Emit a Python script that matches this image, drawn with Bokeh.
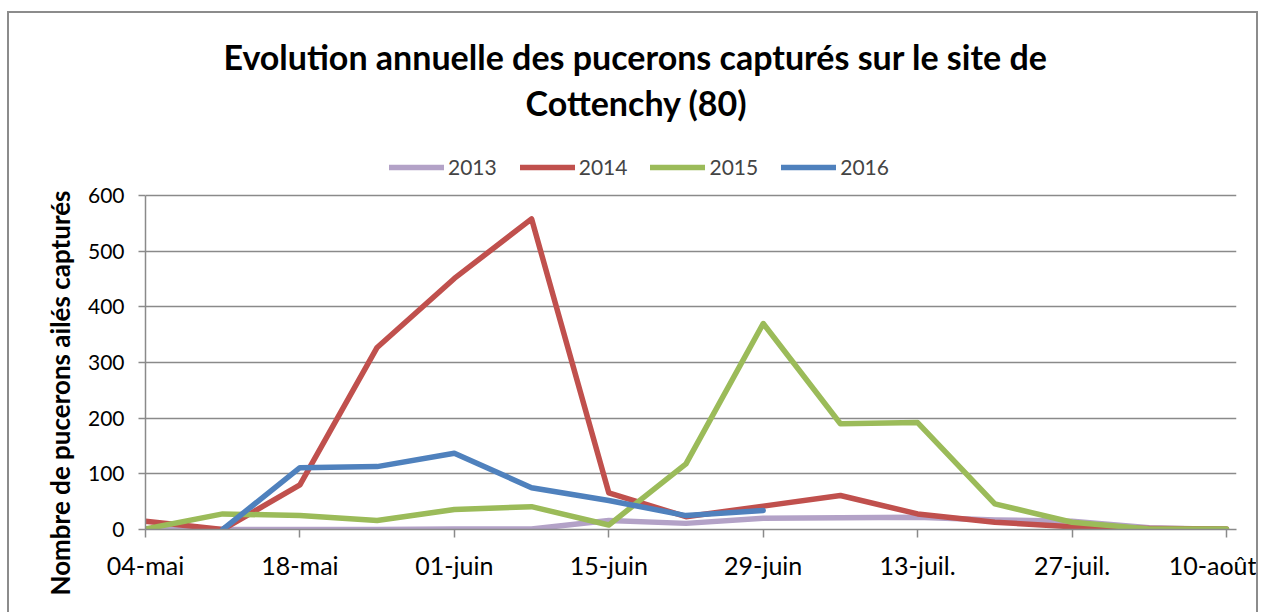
from bokeh.plotting import figure
from bokeh.models import (ColumnDataSource, Range1d, FixedTicker, Legend, LegendItem, Title, Label)
from bokeh.embed import file_html
from bokeh.resources import INLINE

nan = float("nan")

# ---- data ----
weeks = ["04-mai", "11-mai", "18-mai", "25-mai", "01-juin", "08-juin", "15-juin",
         "22-juin", "29-juin", "06-juil.", "13-juil.", "20-juil.", "27-juil.",
         "03-août", "10-août"]
s2013 = [0, 0, 0, 0, 1, 1, 16, 11, 20, 21, 22, 17, 15, 3, 0]
s2014 = [15, 0, 80, 327, 451, 558, 66, 23, 42, 61, 28, 13, 5, 2, 1]
s2015 = [1, 28, 25, 16, 36, 41, 8, 118, 370, 190, 192, 46, 13, 1, 1]
s2016 = [nan, 0, 111, 113, 137, 75, 52, 25, 34, nan, nan, nan, nan, nan, nan]
series_names = ["2013", "2014", "2015", "2016"]
series_colors = ["#B3A2C7", "#C0504D", "#9BBB59", "#4F81BD"]
y_ticks = [0, 100, 200, 300, 400, 500, 600]
title_lines = ["Evolution annuelle des pucerons capturés sur le site de", "Cottenchy (80)"]
y_title = "Nombre de pucerons ailés capturés"

# ---- layout (pixels) ----
W, H = 1251, 601
FRAME_L, FRAME_R, FRAME_B = 136, 24, 85     # canvas borders around the plot frame
FRAME_W = W - FRAME_L - FRAME_R
FRAME_H = H - FRAME_B                        # frame reaches the canvas top
PX_PER_100 = 55.67                           # vertical pixels per 100 units
X_MAX = 14.13
Y_MAX = FRAME_H * 100.0 / PX_PER_100

def sx(px):   # canvas x pixel -> data x
    return (px - FRAME_L) * X_MAX / FRAME_W

def sy(py):   # canvas y pixel (from top) -> data y
    return (FRAME_H - py) * Y_MAX / FRAME_H

x = list(range(len(weeks)))
src = ColumnDataSource(dict(x=x, s2013=s2013, s2014=s2014, s2015=s2015, s2016=s2016))

p = figure(width=W, height=H, x_range=Range1d(0, X_MAX), y_range=Range1d(0, Y_MAX),
           output_backend="svg", toolbar_location=None,
           min_border_left=FRAME_L, min_border_right=FRAME_R, min_border_top=0,
           min_border_bottom=FRAME_B)
p.styles = {"border-top": "2px solid #8c8c8c", "border-left": "2px solid #8c8c8c",
            "border-right": "2px solid #8c8c8c", "margin-top": "11px", "margin-left": "7px"}
p.outline_line_color = None
p.background_fill_color = "white"
p.border_fill_color = "white"

grid_col = "#8a8a8a"
p.xgrid.grid_line_color = None
p.ygrid.grid_line_color = grid_col
p.ygrid.grid_line_width = 1.5
p.ygrid.ticker = FixedTicker(ticks=y_ticks)

p.yaxis.ticker = FixedTicker(ticks=y_ticks)
p.yaxis.bounds = (y_ticks[0], y_ticks[-1])
p.yaxis.axis_line_color = grid_col
p.yaxis.axis_line_width = 1.5
p.yaxis.major_tick_line_color = grid_col
p.yaxis.major_tick_line_width = 1.5
p.yaxis.major_tick_out = 7
p.yaxis.major_tick_in = 0
p.yaxis.minor_tick_line_color = None
p.yaxis.major_label_standoff = 14
p.yaxis.major_label_text_font = "Lato"
p.yaxis.major_label_text_font_size = "21px"
p.yaxis.major_label_text_color = "black"

xt = x[::2]
p.xaxis.ticker = FixedTicker(ticks=xt)
p.xaxis.major_label_overrides = {t: weeks[t] for t in xt}
p.xaxis.axis_line_color = grid_col
p.xaxis.axis_line_width = 1.5
p.xaxis.major_tick_line_color = grid_col
p.xaxis.major_tick_line_width = 1.5
p.xaxis.major_tick_out = 8
p.xaxis.major_tick_in = 0
p.xaxis.minor_tick_line_color = None
p.xaxis.major_label_standoff = 12
p.xaxis.major_label_text_font = "Lato"
p.xaxis.major_label_text_font_size = "25px"
p.xaxis.major_label_text_color = "black"

renderers = []
for name, col in zip(series_names, series_colors):
    r = p.line("x", "s" + name, source=src, line_color=col, line_width=5.5,
               line_join="round", line_cap="round")
    renderers.append(r)

# legend centred near canvas y=154, starting at canvas x=380
legend = Legend(items=[LegendItem(label=n, renderers=[r]) for n, r in zip(series_names, renderers)],
                orientation="horizontal", location=(380 - FRAME_L, FRAME_H - 154 - 12),
                glyph_width=55, glyph_height=24, label_standoff=4, spacing=23,
                padding=0, margin=0, border_line_color=None, background_fill_alpha=0,
                label_text_font="Lato", label_text_font_size="21px",
                label_text_baseline="middle")
p.add_layout(legend, "center")

p.add_layout(Label(x=sx(626), y=sy(43), text=title_lines[0],
                   text_font="Lato", text_font_style="bold", text_font_size="34px",
                   text_align="center", text_baseline="alphabetic", text_color="black"))
p.add_layout(Label(x=sx(627), y=sy(89), text=title_lines[1],
                   text_font="Lato", text_font_style="bold", text_font_size="34px",
                   text_align="center", text_baseline="alphabetic", text_color="black"))

# vertical axis title: starts 66 px below the frame bottom and reads upwards
p.add_layout(Title(text=y_title, align="left", offset=-66, standoff=18,
                   text_font="Lato", text_font_style="bold", text_font_size="26px",
                   text_color="black"), "left")

open("out.html", "w").write(file_html(p, INLINE))
